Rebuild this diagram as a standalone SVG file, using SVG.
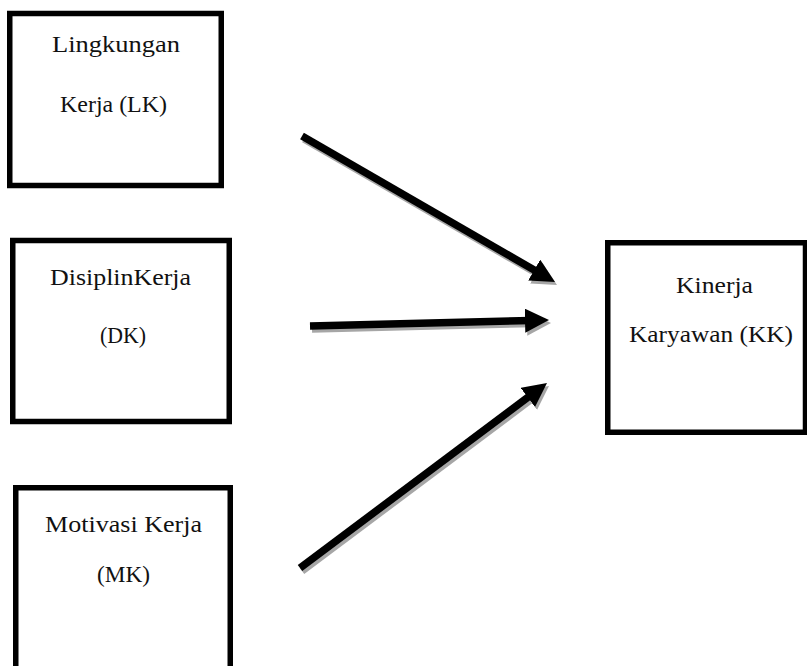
<svg xmlns="http://www.w3.org/2000/svg" width="807" height="666" viewBox="0 0 807 666">
  <style>
    .box { fill: #ffffff; stroke: #000000; stroke-width: 5.5; }
    .lbl { font-family: "Liberation Serif", "Times New Roman", serif; font-size: 23px; fill: #111111; }
    .shaft { stroke: #000000; stroke-width: 7.5; fill: none; marker-end: url(#head); }
    .shadow { stroke: #a6a6a6; stroke-width: 7.5; fill: none; marker-end: url(#headShadow); }
  </style>
  <defs>
    <marker id="head" markerUnits="userSpaceOnUse" markerWidth="26" markerHeight="26" refX="6" refY="12" orient="auto" viewBox="0 0 26 26">
      <path d="M0,0 L24,12 L0,24 Z" fill="#000000"/>
    </marker>
    <marker id="headShadow" markerUnits="userSpaceOnUse" markerWidth="26" markerHeight="26" refX="6" refY="12" orient="auto" viewBox="0 0 26 26">
      <path d="M0,0 L24,12 L0,24 Z" fill="#a6a6a6"/>
    </marker>
  </defs>
  <rect width="807" height="666" fill="#ffffff"/>

  <g id="connectors">
    <g transform="translate(2,3)">
      <line class="shadow" x1="302" y1="136" x2="539.4" y2="273"/>
      <line class="shadow" x1="310" y1="326" x2="531" y2="320.5"/>
      <line class="shadow" x1="300" y1="568" x2="532.6" y2="393.8"/>
    </g>
    <line id="edge-lk-kk" class="shaft" x1="302" y1="136" x2="539.4" y2="273"/>
    <line id="edge-dk-kk" class="shaft" x1="310" y1="326" x2="531" y2="320.5"/>
    <line id="edge-mk-kk" class="shaft" x1="300" y1="568" x2="532.6" y2="393.8"/>
  </g>

  <g id="node-lk">
    <rect class="box" x="9.75" y="13.5" width="211.5" height="172"/>
    <text class="lbl" x="52" y="52" textLength="128" lengthAdjust="spacingAndGlyphs">Lingkungan</text>
    <text class="lbl" x="60" y="112" textLength="107" lengthAdjust="spacingAndGlyphs">Kerja (LK)</text>
  </g>

  <g id="node-dk">
    <rect class="box" x="12.75" y="240.5" width="216.5" height="181"/>
    <text class="lbl" x="50" y="285" textLength="141" lengthAdjust="spacingAndGlyphs">DisiplinKerja</text>
    <text class="lbl" x="100" y="343" textLength="46" lengthAdjust="spacingAndGlyphs">(DK)</text>
  </g>

  <g id="node-kk">
    <rect class="box" x="607.75" y="242.75" width="197.75" height="189.5"/>
    <text class="lbl" x="676" y="293" textLength="77" lengthAdjust="spacingAndGlyphs">Kinerja</text>
    <text class="lbl" x="629" y="342" textLength="164" lengthAdjust="spacingAndGlyphs">Karyawan (KK)</text>
  </g>

  <g id="node-mk">
    <rect class="box" x="15.75" y="487.75" width="214.5" height="200"/>
    <text class="lbl" x="45" y="532" textLength="157" lengthAdjust="spacingAndGlyphs">Motivasi Kerja</text>
    <text class="lbl" x="97" y="582" textLength="53" lengthAdjust="spacingAndGlyphs">(MK)</text>
  </g>
</svg>
